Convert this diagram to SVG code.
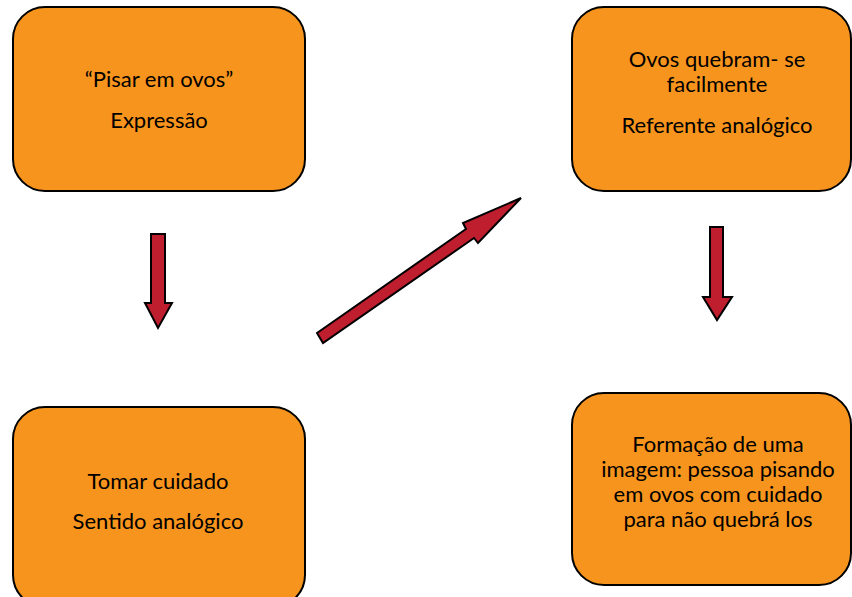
<svg xmlns="http://www.w3.org/2000/svg" width="852" height="597" viewBox="0 0 852 597">
<style>
.box{fill:#F7941D;stroke:#000;stroke-width:2}
.t{font-family:Lato,"Noto Sans","Liberation Sans",sans-serif;font-size:22px;fill:#000;text-anchor:middle}
.arr{fill:#BE1E2D;stroke:#000;stroke-width:2;stroke-linejoin:miter}
</style>
<rect width="852" height="597" fill="#fff"/>
<g id="node-expressao">
<rect class="box" x="13" y="7" width="292" height="184" rx="32"/>
<text class="t" x="159" y="87">“Pisar em ovos”</text>
<text class="t" x="159" y="128">Expressão</text>
</g>
<g id="node-referente">
<rect class="box" x="572" y="7" width="279" height="184" rx="32"/>
<text class="t" x="717" y="67">Ovos quebram- se</text>
<text class="t" x="717" y="92">facilmente</text>
<text class="t" x="717" y="133">Referente analógico</text>
</g>
<g id="node-sentido">
<rect class="box" x="13" y="407" width="292" height="200" rx="32"/>
<text class="t" x="158" y="489">Tomar cuidado</text>
<text class="t" x="158" y="529">Sentido analógico</text>
</g>
<g id="node-imagem">
<rect class="box" x="572" y="393" width="279" height="192" rx="32"/>
<text class="t" x="718" y="452">Formação de uma</text>
<text class="t" x="718" y="477">imagem: pessoa pisando</text>
<text class="t" x="718" y="502">em ovos com cuidado</text>
<text class="t" x="718" y="527">para não quebrá los</text>
</g>
<g id="connectors">
<polygon class="arr" points="151,234 165,234 165,303 172,303 158,328 145,303 151,303"/>
<polygon class="arr" points="317,333 466,229 463,223 521,198 478,243 474,238 323,343"/>
<polygon class="arr" points="710,227 723,227 723,297 732,297 717,320 703,297 710,297"/>
</g>
</svg>
